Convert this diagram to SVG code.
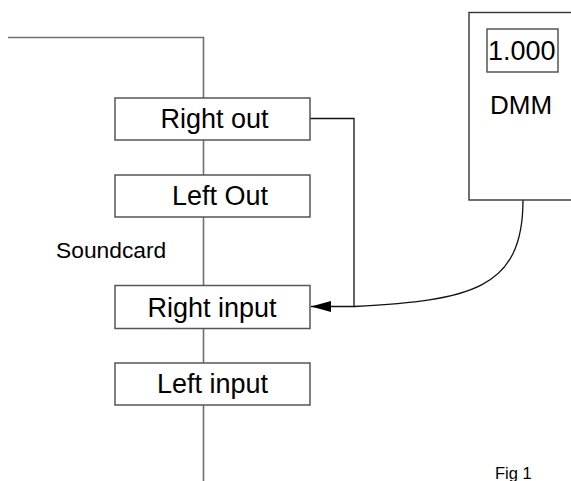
<svg xmlns="http://www.w3.org/2000/svg" width="571" height="481" viewBox="0 0 571 481">
  <defs>
    <marker id="arrow" markerWidth="20" markerHeight="11" refX="20" refY="5.5" orient="auto" markerUnits="userSpaceOnUse">
      <path d="M0,0 L20,5.5 L0,11 Z" fill="#000"/>
    </marker>
  </defs>
  <style>
    .bus { fill: none; stroke: #707070; stroke-width: 1.6; }
    .box { fill: #fff; stroke: #555; stroke-width: 1.5; }
    .wire { fill: none; stroke: #111; stroke-width: 1.3; }
    .lbl { font-family: "Liberation Sans", Arial, sans-serif; font-size: 27px; fill: #000; }
    .small { font-family: "Liberation Sans", Arial, sans-serif; font-size: 22.8px; fill: #000; }
  </style>
  <rect width="571" height="481" fill="#fff"/>
  <g id="connectors">
    <path class="bus" d="M8,37.5 H203.5 V481"/>
    <path class="wire" d="M310,118.5 H354 V306.5 H311" marker-end="url(#arrow)"/>
    <path class="wire" d="M523,200 C523,290 470,300 354,306.5"/>
  </g>
  <g id="right-out">
    <rect class="box" x="115" y="98" width="195" height="42"/>
    <text class="lbl" x="160.5" y="128">Right out</text>
  </g>
  <g id="left-out">
    <rect class="box" x="115" y="175" width="195" height="42"/>
    <text class="lbl" x="172" y="204.5">Left Out</text>
  </g>
  <g id="soundcard-label">
    <text class="small" x="56" y="258">Soundcard</text>
  </g>
  <g id="right-input">
    <rect class="box" x="115" y="285.5" width="195" height="43"/>
    <text class="lbl" x="147.5" y="316.5">Right input</text>
  </g>
  <g id="left-input">
    <rect class="box" x="115" y="363" width="195" height="42"/>
    <text class="lbl" x="157" y="392.5">Left input</text>
  </g>
  <g id="dmm">
    <rect x="469" y="12.5" width="110" height="187.5" fill="#fff" stroke="#333" stroke-width="1.4"/>
    <rect x="487" y="29" width="71" height="43" fill="#fff" stroke="#555" stroke-width="1.5"/>
    <text class="lbl" x="488" y="59.5">1.000</text>
    <text class="lbl" x="490" y="114" style="font-size:26px">DMM</text>
  </g>
  <g id="fig-label">
    <text x="495" y="478.5" style="font-family:'Liberation Sans',Arial,sans-serif;font-size:16.5px;fill:#000">Fig 1</text>
  </g>
</svg>
